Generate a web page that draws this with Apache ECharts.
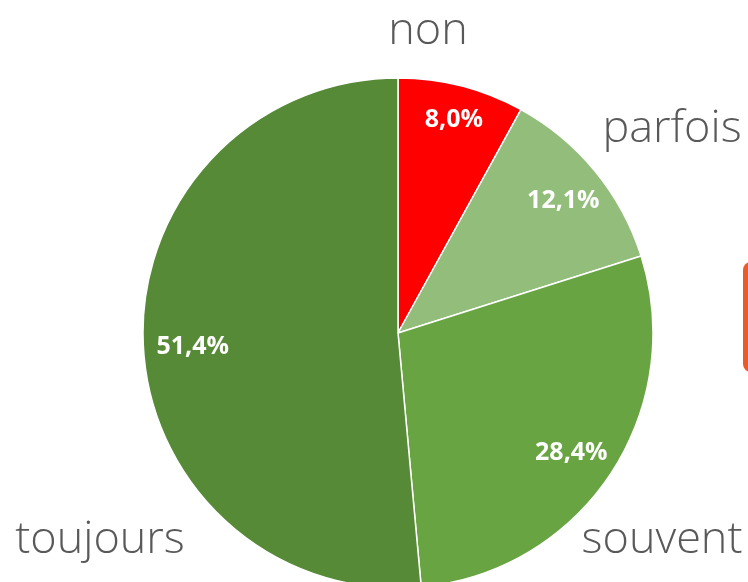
<!DOCTYPE html>
<html>
<head>
<meta charset="utf-8">
<script src="https://cdn.jsdelivr.net/npm/echarts@6/dist/echarts.min.js"></script>
<style>
  html, body { margin: 0; padding: 0; background: #fff; }
  #pie-chart { width: 748px; height: 582px; }
</style>
</head>
<body>
<div id="pie-chart"></div>
<script>
// ------------------------------
// Data
// ------------------------------
var categories = ['non', 'parfois', 'souvent', 'toujours'];
var percents = [8.0, 12.1, 28.4, 51.4];
var sliceColors = ['#ff0000', '#93bd7b', '#69a443', '#568a37'];

// layout only: where each category name sits, and small nudges for the percentages
var nameAnchors = [[428, 31], [672, 129], [662, 540], [100, 540]];
var pctNudge = [[2, -3], [-2, 5], [-7, 0], [11, 4]];

var pieData = categories.map(function (name, i) {
    return { name: name, value: percents[i], itemStyle: { color: sliceColors[i] } };
});
// same values, no colour: used only to place the percentages
var ringData = categories.map(function (name, i) {
    return { name: name, value: percents[i] };
});

var chart = echarts.init(document.getElementById('pie-chart'));

var option = {
    animation: false,
    backgroundColor: '#ffffff',

    // orange box peeking in at the right edge
    graphic: [{
        type: 'rect',
        shape: { x: 743, y: 262, width: 40, height: 110, r: 8 },
        style: { fill: '#e95c26' },
        silent: true
    }],

    series: [
        // main pie, category names outside
        {
            type: 'pie',
            center: [398, 333],
            radius: [0, 255],
            startAngle: 90,
            clockwise: true,
            silent: true,
            data: pieData,
            itemStyle: { borderColor: '#ffffff', borderWidth: 1.5 },
            label: {
                show: true,
                position: 'outside',
                formatter: '{b}',
                overflow: 'none',
                fontFamily: 'Open Sans',
                fontWeight: 300,
                fontSize: 45,
                color: '#595959'
            },
            labelLine: { show: false },
            labelLayout: function (p) {
                var a = nameAnchors[p.dataIndex];
                return { x: a[0], y: a[1], align: 'center', verticalAlign: 'middle' };
            }
        },
        // transparent ring just to place the percentages near the rim
        {
            type: 'pie',
            center: [398, 333],
            radius: [172, 255],
            startAngle: 90,
            clockwise: true,
            silent: true,
            data: ringData,
            itemStyle: { color: 'rgba(0,0,0,0)', borderWidth: 0 },
            label: {
                show: true,
                position: 'inside',
                formatter: function (p) {
                    return p.value.toFixed(1).replace('.', ',') + '%';
                },
                fontFamily: 'Open Sans',
                fontWeight: 'bold',
                fontSize: 25,
                color: '#ffffff'
            },
            labelLine: { show: false },
            labelLayout: function (p) {
                var n = pctNudge[p.dataIndex];
                return { dx: n[0], dy: n[1] };
            }
        }
    ]
};

chart.setOption(option);
</script>
</body>
</html>
